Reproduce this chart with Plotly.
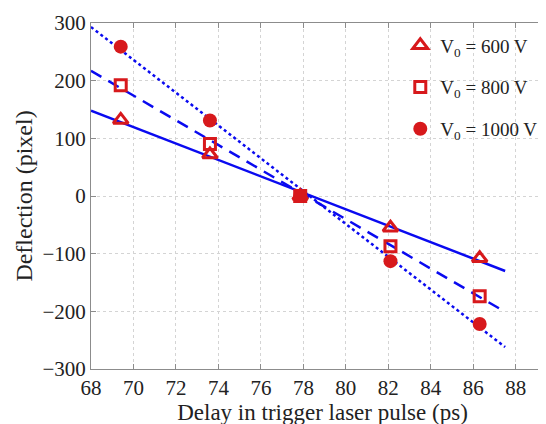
import plotly.graph_objects as go

delay = [69.4, 73.6, 77.85, 82.1, 86.3]
defl_600 = [132, 72, 0, -55, -108]
defl_800 = [192, 90, 0, -87, -174]
defl_1000 = [259, 131, 0, -113, -222]

fit_x = [68, 87.5]
fit_600 = [148, -130]
fit_800 = [217, -201]
fit_1000 = [293, -262]

labels = ["V<sub>0</sub> = 600 V", "V<sub>0</sub> = 800 V", "V<sub>0</sub> = 1000 V"]

RED = "#d7191c"
BLUE = "#0a0af0"
FONT = "Liberation Serif"

fig = go.Figure()
for fy, dash in [(fit_600, "solid"), (fit_800, "12px,8px"), (fit_1000, "dot")]:
    fig.add_trace(go.Scatter(x=fit_x, y=fy, mode="lines", showlegend=False,
                             line=dict(color=BLUE, width=2.5, dash=dash)))

markers = [
    (defl_600, dict(symbol="triangle-up-open", size=13, color=RED, line=dict(width=3, color=RED))),
    (defl_800, dict(symbol="square-open", size=11, color=RED, line=dict(width=3, color=RED))),
    (defl_1000, dict(symbol="circle", size=14, color=RED, line=dict(width=0))),
]
for i, ((vals, mk), lab) in enumerate(zip(markers, labels)):
    fig.add_trace(go.Scatter(x=delay, y=vals, mode="markers", name=lab,
                             legendgroup=f"g{i}", marker=mk))

axis_common = dict(
    showline=True, linecolor="#8c8c8c", linewidth=1,
    ticks="inside", ticklen=5, tickcolor="#8c8c8c",
    showgrid=True, gridcolor="#d4d4d4", griddash="dot", gridwidth=1,
    zeroline=False, automargin=False,
    tickfont=dict(family=FONT, size=21, color="#222"),
)

fig.update_layout(
    width=546, height=424,
    margin=dict(l=83, r=0, t=15, b=63),
    plot_bgcolor="white", paper_bgcolor="white",
    font=dict(family=FONT, color="#222"),
    xaxis=dict(range=[68, 89.8], tickmode="array", tickvals=list(range(68, 89, 2)),
               mirror="ticks",
               title=dict(text="Delay in trigger laser pulse (ps)", font=dict(family=FONT, size=23), standoff=0),
               **axis_common),
    yaxis=dict(range=[-300, 300], tickmode="array", tickvals=list(range(-300, 301, 100)),
               title=dict(text="Deflection (pixel)", font=dict(family=FONT, size=24), standoff=3),
               **axis_common),
    legend=dict(x=0.668, y=0.99, xanchor="left", yanchor="top",
                font=dict(family=FONT, size=19, color="#222"),
                bgcolor="rgba(255,255,255,0)", tracegroupgap=14,
                traceorder="grouped", itemwidth=30),
)

fig.write_html("out.html")
